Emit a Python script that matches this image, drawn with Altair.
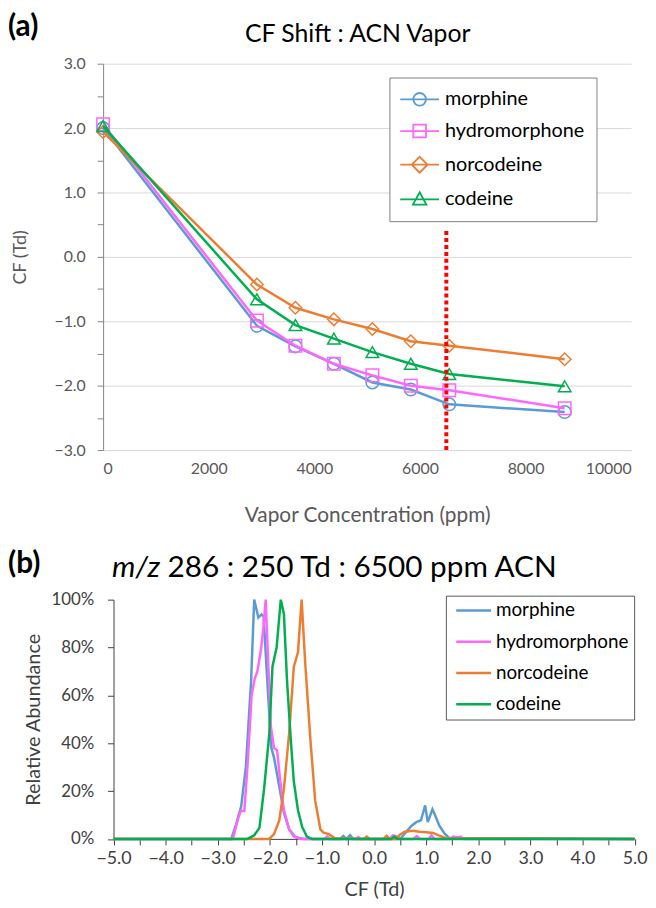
import altair as alt
import pandas as pd

FONT = "Lato"

# ---------------- shared series info ----------------
series = ["morphine", "hydromorphone", "norcodeine", "codeine"]
colors = ["#5B9BD5", "#FF66FF", "#ED7D31", "#00B050"]
shapes = ["circle", "square", "diamond", "triangle-up"]

# ---------------- (a) CF shift vs ACN vapor concentration ----------------
ppm = [0, 2913, 3642, 4370, 5099, 5827, 6556, 8741]
cf_morphine = [2.00, -1.07, -1.39, -1.66, -1.95, -2.06, -2.29, -2.41]
cf_hydromorphone = [2.06, -0.99, -1.38, -1.66, -1.84, -2.00, -2.07, -2.35]
cf_norcodeine = [1.94, -0.43, -0.79, -0.97, -1.12, -1.31, -1.38, -1.59]
cf_codeine = [2.03, -0.66, -1.06, -1.27, -1.48, -1.66, -1.82, -2.01]
vapor_line_ppm = [6500]
vapor_line_cf = [-3.0]
vapor_line_cf2 = [0.4]

# ---------------- (b) m/z 286 ionogram at 6500 ppm ----------------
morphine_cf = [-5.0, -2.74, -2.65, -2.55, -2.46, -2.36, -2.30, -2.22, -2.16, -2.12, -2.03,
               -1.97, -1.92, -1.82, -1.73, -1.63, -1.51, -1.35, -0.65, -0.59, -0.53, -0.46,
               -0.40, 0.45, 0.52, 0.62, 0.71, 0.81, 0.90, 0.98, 1.03, 1.12, 1.17, 1.25,
               1.35, 1.44, 5.0]
morphine_ab = [0, 0, 6, 13.6, 30, 66, 100, 92.5, 93.8, 93, 59,
               38, 34, 22, 11, 4, 0.8, 0, 0, 1.2, 0, 1.6,
               0, 0, 0.4, 3, 5.3, 7, 7.8, 14, 7, 12.4, 10, 5.6,
               2.3, 0.4, 0]
hydromorphone_cf = [-5.0, -2.71, -2.62, -2.56, -2.49, -2.43, -2.35, -2.29, -2.24, -2.17,
                    -2.12, -2.08, -2.03, -1.98, -1.92, -1.86, -1.80, -1.73, -1.63, -1.54,
                    -1.42, -0.95, -0.90, -0.85, -0.35, -0.30, -0.25, 0.30, 0.36, 0.42,
                    0.48, 0.75, 0.82, 0.88, 1.05, 1.10, 1.16, 1.45, 1.52, 1.60, 1.66,
                    1.72, 5.0]
hydromorphone_ab = [0, 0, 7.6, 11.7, 11.7, 30, 60, 67, 70, 79,
                    89, 100, 73, 47, 38, 37, 24, 12, 4, 1,
                    0, 0, 1.0, 0, 0, 0.8, 0, 0, 1.5, 1.2,
                    0, 0, 1.2, 0, 0, 1.5, 0, 0, 1.0, 0.6, 1.0,
                    0, 0]
norcodeine_cf = [-5.0, -2.01, -1.92, -1.82, -1.73, -1.63, -1.54, -1.46, -1.39, -1.32,
                 -1.22, -1.13, -1.03, -0.97, -0.87, -0.75, -0.20, -0.14, -0.08, 0.18,
                 0.24, 0.30, 0.42, 0.49, 0.59, 0.74, 0.87, 1.00, 1.13, 1.25, 1.38, 5.0]
norcodeine_ab = [0, 0, 2, 7.6, 21, 44, 72, 78, 100, 73,
                 41, 16, 4, 2.6, 2, 0.3, 0, 1, 0, 0,
                 1.3, 0, 0, 1.6, 3, 3.4, 3, 2.8, 2.5, 1.4, 0.3, 0]
codeine_cf = [-5.0, -2.43, -2.30, -2.20, -2.11, -2.01, -1.95, -1.87, -1.79, -1.73, -1.67,
              -1.60, -1.54, -1.46, -1.38, -1.29, -1.19, 0.33, 0.39, 0.45, 5.0]
codeine_ab = [0, 0, 1.5, 4.6, 21, 44, 72, 80, 100, 94, 66,
              42, 24, 12, 5, 1, 0, 0, 1, 0, 0]

a_values = [cf_morphine, cf_hydromorphone, cf_norcodeine, cf_codeine]
b_cf = [morphine_cf, hydromorphone_cf, norcodeine_cf, codeine_cf]
b_ab = [morphine_ab, hydromorphone_ab, norcodeine_ab, codeine_ab]

# ---------------- tables ----------------
a_rows = []
for name, vals in zip(series, a_values):
    for p, v in zip(ppm, vals):
        a_rows.append({"series": name, "ppm": p, "cf": v})
a_df = pd.DataFrame(a_rows)

b_rows = []
for name, xs, ys in zip(series, b_cf, b_ab):
    for i, (xv, yv) in enumerate(zip(xs, ys)):
        b_rows.append({"series": name, "cf": xv, "ab": yv, "i": i})
b_df = pd.DataFrame(b_rows)

# ---------------- panel (a) ----------------
W_A, H_A = 533, 390
GREY = "#595959"

x_a = alt.X("ppm:Q",
            scale=alt.Scale(domain=[0, 10000], nice=False, zero=False),
            axis=alt.Axis(values=list(range(0, 10001, 2000)), format="d",
                          title="Vapor Concentration (ppm)", grid=False, ticks=False,
                          domainColor="#D9D9D9", domainWidth=1,
                          labelColor=GREY, labelFont=FONT, labelFontSize=16,
                          labelPadding=11,
                          titleColor=GREY, titleFont=FONT, titleFontSize=21,
                          titleFontWeight="normal", titleX=W_A / 2, titleY=66,
                          titleBaseline="middle"))
y_a = alt.Y("cf:Q",
            scale=alt.Scale(domain=[-3, 3], nice=False, zero=False),
            axis=alt.Axis(values=[v / 2 for v in range(-6, 7)],
                          labelExpr="datum.value % 1 === 0 ? format(datum.value, '.1f') : ''",
                          grid=True, gridColor="#D9D9D9", gridWidth=1,
                          gridOpacity={"condition": {"test": "datum.value % 1 !== 0", "value": 0},
                                       "value": 1},
                          domainColor="#868686", tickColor="#868686", tickSize=6,
                          labelColor=GREY, labelFont=FONT, labelFontSize=16,
                          labelPadding=12,
                          title="CF (Td)", titleColor=GREY, titleFont=FONT,
                          titleFontSize=18, titleFontWeight="normal",
                          titleX=-83, titleY=H_A / 2, titleBaseline="middle"))

layers_a = []
for name, col, shp in zip(series, colors, shapes):
    d = a_df[a_df.series == name]
    layers_a.append(alt.Chart(d).mark_line(color=col, strokeWidth=2.5).encode(x=x_a, y=y_a))
    layers_a.append(alt.Chart(d).mark_point(shape=shp, color=col, filled=False, size=160,
                                            strokeWidth=1.5, opacity=1).encode(x=x_a, y=y_a))

vline_df = pd.DataFrame({"ppm": vapor_line_ppm, "cf": vapor_line_cf, "cf2": vapor_line_cf2})
layers_a.append(alt.Chart(vline_df).mark_rule(color="#FF0000", strokeWidth=4,
                                              strokeDash=[4, 3]).encode(
    x=x_a, y=y_a, y2=alt.Y2("cf2:Q")))

legend_paths = [
    "M-2.45,0H2.45M-0.8,0A0.8,0.8,0,1,1,0.8,0A0.8,0.8,0,1,1,-0.8,0Z",
    "M-2.45,0H2.45M-0.8,-0.8H0.8V0.8H-0.8Z",
    "M-2.45,0H2.45M-1,0L0,-1L1,0L0,1Z",
    "M-2.45,0H2.45M0,-0.9L0.85,0.65H-0.85Z",
]
legend_a = alt.Legend(title=None, orient="none", legendX=289, legendY=14,
                      strokeColor="#7F7F7F", fillColor="white", padding=12,
                      labelFont=FONT, labelFontSize=20, labelColor="#000000",
                      labelExpr="datum.label + '\u2003'",
                      symbolSize=256, symbolStrokeWidth=1.8, rowPadding=12,
                      symbolOffset=8.5, labelOffset=15.5)
layers_a.append(alt.Chart(a_df).transform_filter("false").mark_point(
    filled=False, strokeWidth=1.8, opacity=1).encode(
    x=x_a, y=y_a,
    color=alt.Color("series:N", scale=alt.Scale(domain=series, range=colors), legend=legend_a),
    shape=alt.Shape("series:N", scale=alt.Scale(domain=series, range=legend_paths),
                    legend=legend_a)))

lab_a = pd.DataFrame({"t": ["(a)"], "title": ["CF Shift : ACN Vapor"]})
layers_a.append(alt.Chart(lab_a).mark_text(font=FONT, fontSize=30, fontWeight="bold",
                                           align="left", baseline="alphabetic",
                                           color="#000000").encode(
    text="t:N", x=alt.value(-96), y=alt.value(-28)))
layers_a.append(alt.Chart(lab_a).mark_text(font=FONT, fontSize=25, align="center",
                                           baseline="alphabetic", color="#000000").encode(
    text="title:N", x=alt.value(257), y=alt.value(-22)))

chart_a = alt.layer(*layers_a).properties(width=W_A, height=H_A)

# ---------------- panel (b) ----------------
W_B, H_B = 537, 241.5
X0_B = 10.5
DARK = "#404040"

x_b = alt.X("cf:Q",
            scale=alt.Scale(domain=[-5, 5], nice=False, zero=False, range=[X0_B, W_B - 0.5]),
            axis=alt.Axis(values=[v / 2 for v in range(-10, 11)],
                          labelExpr="datum.value % 1 === 0 ? format(datum.value, '.1f') : ''",
                          grid=False, domainColor=DARK, tickColor=DARK, tickSize=6,
                          labelColor=DARK, labelFont=FONT, labelFontSize=18,
                          labelPadding=5, labelFlush=False,
                          title="CF (Td)", titleColor=DARK, titleFont=FONT,
                          titleFontSize=20, titleFontWeight="normal",
                          titleX=X0_B + (W_B - 0.5 - X0_B) / 2, titleY=51,
                          titleBaseline="middle"))
y_b = alt.Y("ab:Q",
            scale=alt.Scale(domain=[0, 100], nice=False, zero=False),
            axis=alt.Axis(values=[0, 20, 40, 60, 80, 100],
                          labelExpr="datum.value + '%'", offset=-X0_B,
                          grid=False, domainColor=DARK, tickColor=DARK, tickSize=6,
                          labelColor=DARK, labelFont=FONT, labelFontSize=17,
                          labelPadding=14,
                          title="Relative Abundance", titleColor=DARK, titleFont=FONT,
                          titleFontSize=20, titleFontWeight="normal",
                          titleX=-81, titleY=H_B / 2, titleBaseline="middle"))

layers_b = []
for name, col in zip(series, colors):
    d = b_df[b_df.series == name]
    layers_b.append(alt.Chart(d).mark_line(color=col, strokeWidth=2.5).encode(
        x=x_b, y=y_b, order="i:Q"))

line_sym = "M-2.2,0H2.2"
legend_b = alt.Legend(title=None, orient="none", legendX=346, legendY=-4,
                      strokeColor="#595959", fillColor="white", padding=5.5,
                      labelFont=FONT, labelFontSize=19, labelColor="#000000",
                      labelExpr="datum.label + '\u2002'",
                      symbolType=line_sym, symbolSize=256, symbolStrokeWidth=2.5,
                      rowPadding=11.5, symbolOffset=13, labelOffset=13)
layers_b.append(alt.Chart(b_df).transform_filter("false").mark_point(
    shape=line_sym, filled=False, strokeWidth=2.5, opacity=1).encode(
    x=x_b, y=y_b,
    color=alt.Color("series:N", scale=alt.Scale(domain=series, range=colors), legend=legend_b)))

lab_b = pd.DataFrame({"t": ["(b)"], "it": ["m/z"], "rest": ["286 : 250 Td : 6500 ppm ACN"]})
layers_b.append(alt.Chart(lab_b).mark_text(font=FONT, fontSize=30, fontWeight="bold",
                                           align="left", baseline="alphabetic",
                                           color="#000000").encode(
    text="t:N", x=alt.value(-96), y=alt.value(-27)))
layers_b.append(alt.Chart(lab_b).mark_text(font=FONT, fontSize=30, fontStyle="italic",
                                           align="left", baseline="alphabetic",
                                           color="#000000").encode(
    text="it:N", x=alt.value(9), y=alt.value(-23)))
layers_b.append(alt.Chart(lab_b).mark_text(font=FONT, fontSize=30, align="left",
                                           baseline="alphabetic", color="#000000").encode(
    text="rest:N", x=alt.value(65), y=alt.value(-23)))

chart_b = alt.layer(*layers_b).properties(width=W_B, height=H_B)

chart = alt.vconcat(chart_a, chart_b, spacing=24).resolve_scale(
    color="independent", shape="independent"
).resolve_legend(
    color="independent", shape="independent"
).properties(
    padding={"left": 0, "top": 0, "right": 0, "bottom": 0},
    background="white",
).configure_view(stroke=None)

chart.save("out.html", embed_options={"renderer": "svg", "actions": False})
